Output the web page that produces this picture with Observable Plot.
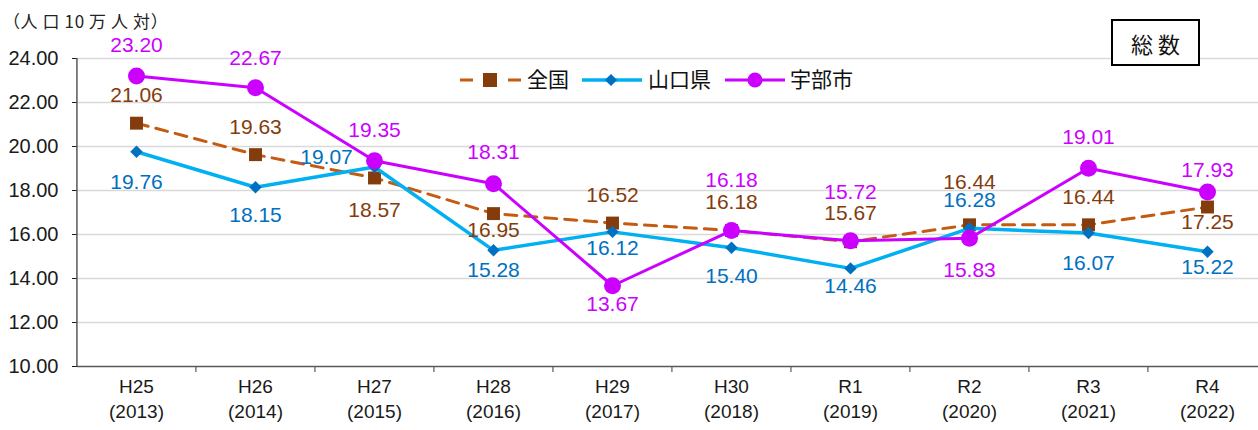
<!DOCTYPE html>
<html>
<head>
<meta charset="utf-8">
<script src="https://cdn.jsdelivr.net/npm/d3@7"></script>
<script src="https://cdn.jsdelivr.net/npm/@observablehq/plot@0.6"></script>
<style>
  body { margin: 0; background: #fff; }
  #wrap { position: relative; width: 1258px; height: 430px; overflow: hidden; background: #fff; }
  #unit { position: absolute; left: 3px; top: 8px; font-family: "Noto Sans CJK JP", sans-serif; font-size: 17px; letter-spacing: 0.6px; color: #222; white-space: pre; }
  #box { position: absolute; left: 1111px; top: 19px; width: 89px; height: 47px; box-sizing: border-box; border: 2px solid #000; background: #fff;
         display: flex; align-items: center; justify-content: center; font-family: "Noto Sans CJK JP", sans-serif; font-size: 22px; letter-spacing: 5px; padding-left: 5px; color: #111; }
  #legend { position: absolute; left: 455px; top: 64px; overflow: visible; }
</style>
</head>
<body>
<div id="wrap">
  <div id="chart"></div>
  <div id="unit">（人 口 10 万 人 対）</div>
  <div id="box">総数</div>
  <svg id="legend" width="420" height="32"></svg>
</div>
<script>
// ---- data ----
const categories = ["H25", "H26", "H27", "H28", "H29", "H30", "R1", "R2", "R3", "R4"];
const years = ["2013", "2014", "2015", "2016", "2017", "2018", "2019", "2020", "2021", "2022"];
const seriesNames = ["全国", "山口県", "宇部市"];
const zenkoku = [21.06, 19.63, 18.57, 16.95, 16.52, 16.18, 15.67, 16.44, 16.44, 17.25];
const yamaguchi = [19.76, 18.15, 19.07, 15.28, 16.12, 15.40, 14.46, 16.28, 16.07, 15.22];
const ube = [23.20, 22.67, 19.35, 18.31, 13.67, 16.18, 15.72, 15.83, 19.01, 17.93];
const yTicks = [10, 12, 14, 16, 18, 20, 22, 24];

// ---- label placement (pixel offsets of value labels from their points) ----
const zenkokuLabelDy = [-28, -27, 32, 17, -28, -28, -28, -43, -28, 15];
const yamaguchiLabelDy = [30, 28, -10, 20, 16, 29, 18, -28, 30, 16];
const yamaguchiLabelDx = [0, 0, -48, 0, 0, 0, 0, 0, 0, 0];
const ubeLabelDy = [-31, -29, -31, -31, 19, -50, -48, 32, -31, -22];

// ---- styles ----
const colZenLine = "#c55a11", colZenMark = "#843c0c";
const colYamLine = "#00b0f0", colYamMark = "#0070c0";
const colUbe = "#cc00ff";
const axisCol = "#595959";
const gridCol = "#d9d9d9";
const font = "'Liberation Sans', Arial, sans-serif";

const xRange = [135.6, 1208];
const step = (xRange[1] - xRange[0]) / (categories.length - 1);
const half = step / 2;
const frameH = 366 - 58;

const labelStyle = { fontSize: 21, fontFamily: font };

const valueLabels = (values, dys, dxs, color) =>
  values.map((v, i) => Plot.text([v], {
    x: [categories[i]], y: [v], dy: dys[i], dx: dxs ? dxs[i] : 0,
    text: d => d.toFixed(2), fill: color, ...labelStyle
  }));

const chart = Plot.plot({
  width: 1258,
  height: 430,
  marginLeft: 77,
  marginRight: 0,
  marginTop: 58,
  marginBottom: 64,
  style: { fontFamily: font, fontSize: "20px", color: "#1a1a1a", background: "#fff" },
  x: { type: "point", domain: categories, range: xRange, padding: 0, axis: null },
  y: { domain: [10, 24], range: [366, 58], ticks: yTicks, tickFormat: d => d.toFixed(2), tickSize: 5, tickPadding: 14, label: null },
  marks: [
    Plot.ruleY(yTicks.filter(v => v > 10), { stroke: gridCol, strokeWidth: 1.5 }),
    Plot.ruleY([10], { stroke: axisCol, strokeWidth: 1.5 }),
    Plot.ruleX([categories[0]], { dx: -half, stroke: axisCol, strokeWidth: 1.5 }),
    Plot.ruleX(categories.slice(1), { dx: -half, insetTop: frameH, insetBottom: -6, stroke: axisCol, strokeWidth: 1.2 }),
    // x axis labels
    Plot.text(categories, { x: d => d, frameAnchor: "bottom", dy: 26, text: d => d, fontSize: 19, fill: "#1a1a1a" }),
    Plot.text(years, { x: categories, frameAnchor: "bottom", dy: 51, text: d => "(" + d + ")", fontSize: 19, fill: "#1a1a1a" }),
    // 全国
    Plot.line(zenkoku, { x: categories, y: zenkoku, stroke: colZenLine, strokeWidth: 3, strokeDasharray: "12,8" }),
    Plot.dot(zenkoku, { x: categories, y: zenkoku, symbol: "square", r: 7.3, fill: colZenMark, stroke: "none" }),
    // 山口県
    Plot.line(yamaguchi, { x: categories, y: yamaguchi, stroke: colYamLine, strokeWidth: 3.5 }),
    Plot.dot(yamaguchi, { x: categories, y: yamaguchi, symbol: "diamond2", r: 5.6, fill: colYamMark, stroke: "none" }),
    // 宇部市
    Plot.line(ube, { x: categories, y: ube, stroke: colUbe, strokeWidth: 3 }),
    Plot.dot(ube, { x: categories, y: ube, r: 8.5, fill: colUbe, stroke: "none" }),
    // value labels
    ...valueLabels(zenkoku, zenkokuLabelDy, null, colZenMark),
    ...valueLabels(yamaguchi, yamaguchiLabelDy, yamaguchiLabelDx, colYamMark),
    ...valueLabels(ube, ubeLabelDy, null, colUbe)
  ]
});
document.getElementById("chart").appendChild(chart);

// legend
const lg = d3.select("#legend");
const cy = 16;
const lf = "'Noto Sans CJK JP', sans-serif";
// 全国
lg.append("line").attr("x1", 5).attr("x2", 66).attr("y1", cy).attr("y2", cy)
  .attr("stroke", colZenLine).attr("stroke-width", 3).attr("stroke-dasharray", "13,35");
lg.append("rect").attr("x", 35 - 7).attr("y", cy - 7).attr("width", 14).attr("height", 14).attr("fill", colZenMark);
lg.append("text").attr("x", 72).attr("y", cy).attr("dy", "0.35em").attr("font-family", lf).attr("font-size", 21).attr("fill", "#111").text(seriesNames[0]);
// 山口県
lg.append("line").attr("x1", 127).attr("x2", 187).attr("y1", cy).attr("y2", cy).attr("stroke", colYamLine).attr("stroke-width", 3.5);
lg.append("path").attr("d", d3.symbol(d3.symbolDiamond2, 95)()).attr("transform", `translate(156,${cy})`).attr("fill", colYamMark);
lg.append("text").attr("x", 193).attr("y", cy).attr("dy", "0.35em").attr("font-family", lf).attr("font-size", 21).attr("fill", "#111").text(seriesNames[1]);
// 宇部市
lg.append("line").attr("x1", 270).attr("x2", 330).attr("y1", cy).attr("y2", cy).attr("stroke", colUbe).attr("stroke-width", 3);
lg.append("circle").attr("cx", 300).attr("cy", cy).attr("r", 7.5).attr("fill", colUbe);
lg.append("text").attr("x", 335).attr("y", cy).attr("dy", "0.35em").attr("font-family", lf).attr("font-size", 21).attr("fill", "#111").text(seriesNames[2]);
</script>
</body>
</html>
